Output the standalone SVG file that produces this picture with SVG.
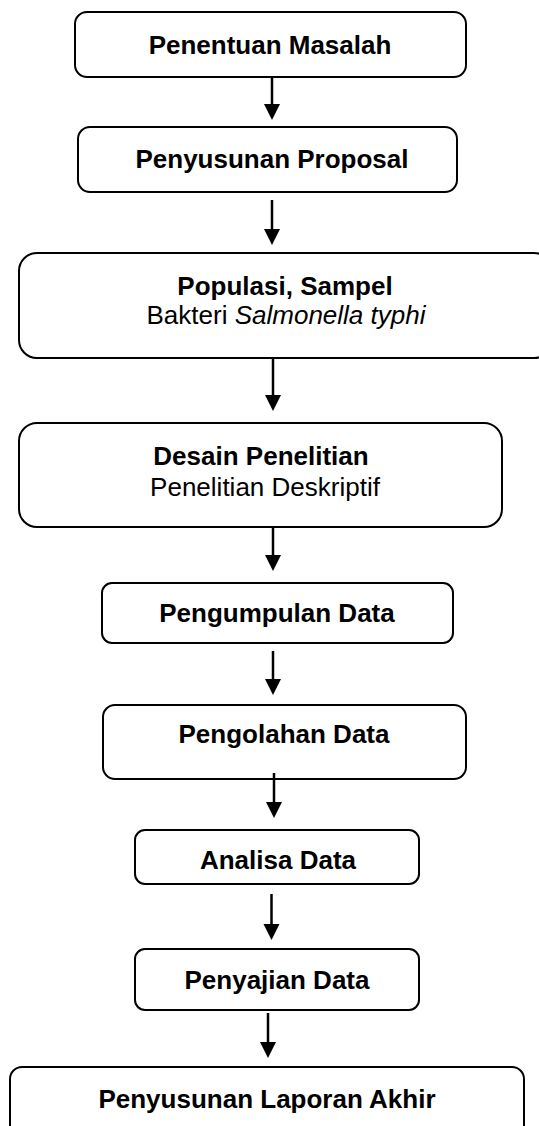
<svg xmlns="http://www.w3.org/2000/svg" width="539" height="1126" viewBox="0 0 539 1126">
<style>
.box{fill:#fff;stroke:#000;stroke-width:2}
.t{font-family:"Liberation Sans",Arial,sans-serif;font-size:26px;text-anchor:middle;fill:#000}
.b{font-weight:bold}
.edge{stroke:#000;stroke-width:2.5;fill:none}
.head{fill:#000}
</style>
<rect width="539" height="1126" fill="#fff"/>
<g id="n1"><rect class="box" x="75" y="12" width="391" height="65" rx="12"/><text class="t b" x="270" y="54">Penentuan Masalah</text></g>
<g id="n2"><rect class="box" x="78" y="127" width="379" height="65" rx="12"/><text class="t b" x="272" y="168">Penyusunan Proposal</text></g>
<g id="n3"><rect class="box" x="19" y="253" width="533" height="105" rx="18"/><text class="t b" x="285" y="295">Populasi, Sampel</text><text class="t" x="286" y="324">Bakteri <tspan font-style="italic">Salmonella typhi</tspan></text></g>
<g id="n4"><rect class="box" x="19" y="423" width="483" height="104" rx="18"/><text class="t b" x="261" y="465">Desain Penelitian</text><text class="t" x="265" y="496">Penelitian Deskriptif</text></g>
<g id="n5"><rect class="box" x="102" y="583" width="351" height="60" rx="10"/><text class="t b" x="277" y="622">Pengumpulan Data</text></g>
<g id="n6"><rect class="box" x="103" y="705" width="363" height="74" rx="12"/><text class="t b" x="284" y="743">Pengolahan Data</text></g>
<g id="n7"><rect class="box" x="135" y="830" width="284" height="54" rx="10"/><text class="t b" x="278" y="869">Analisa Data</text></g>
<g id="n8"><rect class="box" x="135" y="949" width="284" height="61" rx="10"/><text class="t b" x="277" y="989">Penyajian Data</text></g>
<g id="n9"><rect class="box" x="10" y="1067" width="514" height="80" rx="12"/><text class="t b" x="267" y="1108">Penyusunan Laporan Akhir</text></g>
<g id="connectors">
<line class="edge" x1="272" y1="78" x2="272" y2="105"/><polygon class="head" points="264,104 280,104 272,120"/>
<line class="edge" x1="272" y1="200" x2="272" y2="230"/><polygon class="head" points="264,229 280,229 272,245"/>
<line class="edge" x1="273" y1="359" x2="273" y2="396"/><polygon class="head" points="265,395 281,395 273,411"/>
<line class="edge" x1="273" y1="528" x2="273" y2="556"/><polygon class="head" points="265,555 281,555 273,571"/>
<line class="edge" x1="273" y1="651" x2="273" y2="680"/><polygon class="head" points="265,679 281,679 273,695"/>
<line class="edge" x1="274" y1="773" x2="274" y2="803"/><polygon class="head" points="266,802 282,802 274,818"/>
<line class="edge" x1="271.5" y1="894" x2="271.5" y2="925"/><polygon class="head" points="263.5,924 279.5,924 271.5,940"/>
<line class="edge" x1="268" y1="1013" x2="268" y2="1043"/><polygon class="head" points="260,1042 276,1042 268,1058"/>
</g>
</svg>
